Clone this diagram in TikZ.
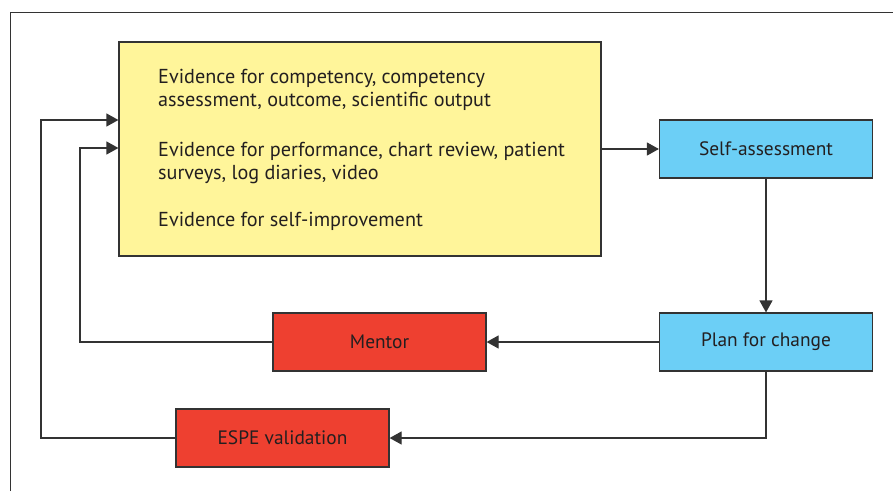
\documentclass[tikz,border=0pt]{standalone}
\usepackage{fontspec}
\setmainfont{PT Sans}
\usetikzlibrary{arrows.meta}
\definecolor{inkgray}{HTML}{231F20}
\definecolor{linegray}{HTML}{333333}
\definecolor{evidyellow}{HTML}{FFF59A}
\definecolor{selfblue}{HTML}{6CCFF6}
\definecolor{actred}{HTML}{EE4030}
\tikzset{
  box/.style={draw=linegray, line width=1.2pt, minimum width=213pt, minimum height=58pt,
    inner sep=0pt, text=inkgray, font=\fontsize{19.4}{23}\selectfont},
  bluebox/.style={box, fill=selfblue},
  redbox/.style={box, fill=actred},
  evtext/.style={anchor=base west, align=left, inner sep=0pt, text=inkgray,
    font=\fontsize{20.2}{23.4}\selectfont},
  arr/.style={draw=linegray, line width=1.2pt, -{Triangle[length=12pt,width=13pt]}},
}
\begin{document}
\begin{tikzpicture}[x=1pt,y=-1pt]
\useasboundingbox (0,0) rectangle (893,491);
% partial frame
\draw[linegray, line width=1pt] (10,491) -- (10,12) -- (893,12);

% evidence box (base anchor of two-line texts sits on the last line)
\node[box, fill=evidyellow, minimum width=482pt, minimum height=214pt] (evid) at (360,149) {};
\node[evtext] (ev1) at (158,106.7) {Evidence for competency, competency\\assessment, outcome, scientific output};
\node[evtext] (ev2) at (158,179.4) {Evidence for performance, chart review, patient\\surveys, log diaries, video};
\node[evtext] (ev3) at (158,226.5) {Evidence for self-improvement};

% process boxes
\node[bluebox] (self) at (766,149) {Self-assessment};
\node[bluebox] (plan) at (766,342) {Plan for change};
\node[redbox] (mentor) at (379.5,342) {Mentor};
\node[redbox] (espe) at (282.5,438) {ESPE validation};

% bends of the feedback loops
\coordinate (mbend) at (80,342);
\coordinate (ebend) at (41,438);

% connectors
\draw[arr] (evid.east) -- (self.west);
\draw[arr] (self.south) -- (plan.north);
\draw[arr] (plan.west) -- (mentor.east);
\draw[arr] (plan.south) |- (espe.east);
\draw[arr] (mentor.west) -- (mbend) |- ([yshift=1pt]evid.west);
\draw[arr] (espe.west) -- (ebend) |- ([yshift=29pt]evid.west);
\end{tikzpicture}
\end{document}
